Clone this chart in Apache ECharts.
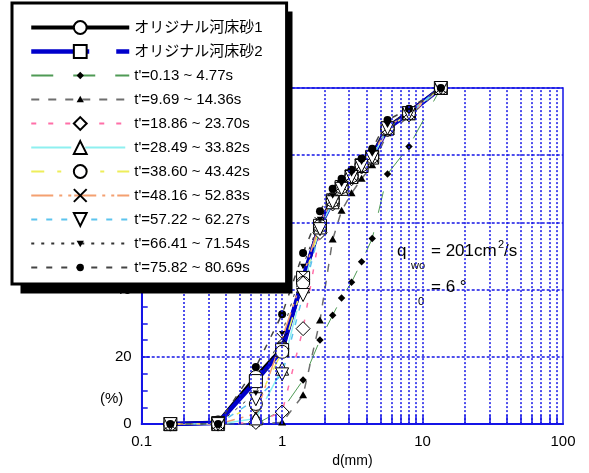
<!DOCTYPE html>
<html>
<head>
<meta charset="utf-8">
<script src="https://cdn.jsdelivr.net/npm/echarts@6/dist/echarts.min.js"></script>
<style>
  html, body { margin: 0; padding: 0; background: #fff; }
  #main { width: 589px; height: 473px; }
</style>
</head>
<body>
<div id="main"></div>
<script>
// 粒径 d(mm)
const sizes = [0.16, 0.35, 0.65, 1.0, 1.41, 1.86, 2.29, 2.65, 3.12, 3.68, 4.38, 5.63, 8.0, 13.5];

// 通過百分率 (%)
const orig1 = [0, 0.5, 14, 22.5, 43, 59.5, 67, 70.8, 74, 77.3, 80, 88.3, 92.8, 100];
const orig2 = [0, 0.3, 12.8, 22, 43.5, 59, 66.5, 70.5, 73.7, 77, 79.5, 88, 92.5, 100];
const t1 = [0, 0, 0, 4.2, 13.1, 25, 32.4, 37.5, 42.2, 48.3, 55.2, 74.4, 82.6, 100];
const t2 = [0, 0, 0, 0.5, 8.6, 30.8, 54.9, 63.5, 68.7, 73, 77, 86.5, 91.5, 100];
const t3 = [0, 0, 0.5, 3.6, 28.4, 57, 65.5, 70, 73, 76.5, 79, 87.5, 92, 100];
const t4 = [0, 0, 1.7, 16.5, 41, 58.5, 66, 70, 73.5, 76.8, 79.3, 88, 92.5, 100];
const t5 = [0, 0, 6, 21.5, 42, 59, 66.5, 70.5, 73.7, 77, 79.5, 88, 92.5, 100];
const t6 = [0, 0, 3.1, 25.5, 44, 60, 67, 71, 74, 77.3, 79.8, 88.3, 92.8, 100];
const t7 = [0, 0, 7.4, 14.8, 38.4, 58, 66, 70, 73.5, 76.8, 79.3, 88, 92.5, 100];
const t8 = [0, 0, 9.3, 27, 47, 61, 68, 71.5, 74.5, 78, 80.5, 89, 93, 100];
const t9 = [0, 0, 17, 32.7, 50.9, 63.3, 70, 73, 75.7, 79, 81.9, 90.5, 93.8, 100];

const names = ['オリジナル河床砂1', 'オリジナル河床砂2',
  "t'=0.13 ~ 4.77s", "t'=9.69 ~ 14.36s", "t'=18.86 ~ 23.70s", "t'=28.49 ~ 33.82s",
  "t'=38.60 ~ 43.42s", "t'=48.16 ~ 52.83s", "t'=57.22 ~ 62.27s", "t'=66.41 ~ 71.54s",
  "t'=75.82 ~ 80.69s"];

// 補助目盛 (対数軸)
const gridX = [0.2, 0.3, 0.4, 0.5, 0.6, 0.7, 0.8, 0.9, 1, 2, 3, 4, 5, 6, 7, 8, 9, 10,
  20, 30, 40, 50, 60, 70, 80, 90];

const BLUE = '#1414e6';
const FONT = 'Liberation Sans, Arial, Noto Sans CJK JP, sans-serif';

// 小さい塗りつぶしマーカー (外枠14の中に小さく描く)
const SMALL_DIAMOND = 'path://M0,0M14,14M3,7L7,3L11,7L7,11Z';
const SMALL_TRI = 'path://M0,0M14,14M7,3L11,10L3,10Z';
const SMALL_DOT = 'path://M0,0M14,14M3,7A4,4,0,1,1,11,7A4,4,0,1,1,3,7Z';
const CROSS = 'path://M0,0L10,10M10,0L0,10';

function pairs(v) {
  return sizes.map((s, i) => [s, v[i]]);
}

const hollow = { color: '#fff', borderColor: '#000', borderWidth: 1 };
const filled = { color: '#000', borderColor: '#000', borderWidth: 0 };

function mk(name, vals, line, symbol, size, item, rotate) {
  return {
    name: name,
    type: 'line',
    data: pairs(vals),
    symbol: symbol,
    symbolSize: size,
    symbolRotate: rotate || 0,
    lineStyle: line,
    itemStyle: item,
    z: 3
  };
}

let myChart = echarts.init(document.getElementById('main'));

let legendData = names.map(n => ({ name: n }));
legendData[0].lineStyle = { width: 4 };
legendData[1].lineStyle = { width: 4.5, type: [58, 27] };

let option = {
  animation: false,
  textStyle: { fontFamily: FONT },
  grid: {
    left: 141.7, right: 26, top: 88, bottom: 35.5,
    show: true, borderColor: BLUE, borderWidth: 1.5, backgroundColor: '#fff'
  },
  xAxis: {
    type: 'log', logBase: 10, min: 0.1, max: 100,
    name: 'd(mm)', nameLocation: 'middle', nameGap: 27,
    nameTextStyle: { fontSize: 14, color: '#000', fontFamily: FONT },
    axisLine: { lineStyle: { color: BLUE, width: 2 } },
    axisTick: { show: false },
    axisLabel: { fontSize: 15, color: '#000', margin: 10, fontFamily: FONT },
    splitLine: { show: false }
  },
  yAxis: {
    type: 'value', min: 0, max: 100, interval: 20,
    axisLine: { show: true, lineStyle: { color: BLUE, width: 2 } },
    axisTick: { show: true, inside: true, length: 8, lineStyle: { color: BLUE, width: 1.5 } },
    minorTick: { show: true, splitNumber: 4, length: 6, lineStyle: { color: BLUE, width: 1.5 } },
    axisLabel: { fontSize: 15, color: '#000', margin: 10, fontFamily: FONT },
    splitLine: { show: true, lineStyle: { color: BLUE, type: [3, 2], width: 1.5 } }
  },
  legend: {
    data: legendData,
    orient: 'vertical',
    left: 12, top: 3,
    padding: [17, 24, 9, 17],
    itemWidth: 98, itemHeight: 16, itemGap: 9,
    backgroundColor: '#fff',
    borderColor: '#000', borderWidth: 3,
    selectedMode: false,
    textStyle: { fontSize: 15, color: '#000', fontFamily: FONT },
    z: 10
  },
  graphic: [
    // legend shadow
    { type: 'rect', shape: { x: 20.5, y: 11.5, width: 272, height: 282 },
      style: { fill: '#000' }, z: 9 },
    { type: 'text', left: 100, top: 391, style: { text: '(%)', fill: '#000', font: '15px ' + FONT }, z: 5 },
    { type: 'text', x: 397, y: 243, style: { text: 'q', font: '17px ' + FONT, fill: '#000' }, z: 5 },
    { type: 'text', x: 411, y: 260, style: { text: 'wo', font: '11px ' + FONT, fill: '#000' }, z: 5 },
    { type: 'text', x: 431, y: 243, style: { text: '= 201cm', font: '17px ' + FONT, fill: '#000' }, z: 5 },
    { type: 'text', x: 498, y: 239, style: { text: '2', font: '11px ' + FONT, fill: '#000' }, z: 5 },
    { type: 'text', x: 504, y: 243, style: { text: '/s', font: '17px ' + FONT, fill: '#000' }, z: 5 },
    { type: 'text', x: 418, y: 296, style: { text: '0', font: '11px ' + FONT, fill: '#000' }, z: 5 },
    { type: 'text', x: 431, y: 279, style: { text: '= 6 °', font: '17px ' + FONT, fill: '#000' }, z: 5 }
  ],
  series: [
    {
      name: 'grid', type: 'line', data: [], z: 1, silent: true,
      markLine: {
        silent: true, symbol: ['none', 'none'], label: { show: false },
        lineStyle: { color: BLUE, type: [2, 2], width: 1.5 },
        data: gridX.map(v => ({ xAxis: v }))
      }
    },
    {
      name: 'ticks', type: 'line', data: [], z: 1, silent: true,
      markLine: {
        silent: true, symbol: ['none', 'none'], label: { show: false },
        lineStyle: { color: BLUE, type: 'solid', width: 1.5 },
        data: gridX.map(v => [{ coord: [v, 0] }, { coord: [v, 2.6] }])
      }
    },
    mk(names[0], orig1, { color: '#000', width: 4 }, 'circle', 13, hollow),
    mk(names[1], orig2, { color: '#0000cc', width: 4.5 }, 'rect', 13, hollow),
    mk(names[2], t1, { color: '#4f9a55', width: 1, type: [22, 20] }, SMALL_DIAMOND, 13, filled),
    mk(names[3], t2, { color: '#6e6e6e', width: 1.5, type: [8, 9] }, SMALL_TRI, 14, filled),
    mk(names[4], t3, { color: '#ff6fa8', width: 1.5, type: [5, 12] }, 'diamond', 14, hollow),
    mk(names[5], t4, { color: '#8ef0f0', width: 1.5, type: [40, 14] }, 'triangle', 13, hollow),
    mk(names[6], t5, { color: '#eeee5a', width: 1.5, type: [13, 13, 4, 13] }, 'circle', 13, hollow),
    mk(names[7], t6, { color: '#f4a070', width: 1.5, type: [22, 6, 3, 6, 3, 3] },
      CROSS, 11, { color: 'rgba(0,0,0,0)', borderColor: '#000', borderWidth: 1 }),
    mk(names[8], t7, { color: '#5cc4ee', width: 1.5, type: [6, 9] }, 'triangle', 13, hollow, 180),
    mk(names[9], t8, { color: '#333', width: 1, type: [3, 7] }, SMALL_TRI, 11, filled, 180),
    mk(names[10], t9, { color: '#444', width: 1.5, type: [6, 9] }, SMALL_DOT, 14, filled)
  ]
};

myChart.setOption(option);
</script>
</body>
</html>
